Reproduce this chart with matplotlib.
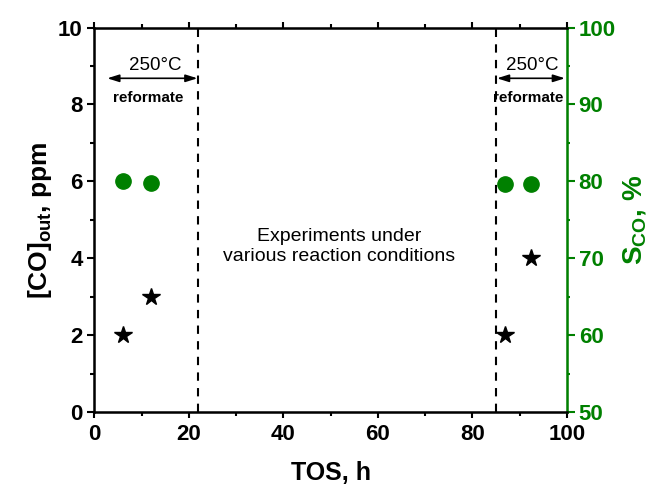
import matplotlib
matplotlib.use("Agg")
import matplotlib.pyplot as plt
from matplotlib.ticker import MultipleLocator

plt.rcParams['font.family'] = ['Liberation Sans', 'DejaVu Sans']
plt.rcParams['mathtext.fontset'] = 'custom'
plt.rcParams['mathtext.rm'] = 'Liberation Sans'
plt.rcParams['mathtext.bf'] = 'Liberation Sans:bold'

# data
tos_co = [6, 12, 87, 92.5]
co_out = [2, 3, 2, 4]
tos_s = [6, 12, 87, 92.5]
s_co = [80, 79.8, 79.7, 79.7]
boundaries = [22, 85]

green = '#008000'

fig = plt.figure(figsize=(6.48, 4.86), dpi=100)
ax = fig.add_axes([0.1458, 0.1523, 0.729, 0.791])
ax2 = ax.twinx()

ax.plot(tos_co, co_out, linestyle='none', marker='*', color='black', markersize=13)
ax2.plot(tos_s, s_co, linestyle='none', marker='o', color=green, markersize=11)

for b in boundaries:
    ax.axvline(b, color='black', linestyle=(0, (4, 3.5)), linewidth=1.5)

arrow = dict(arrowstyle='<|-|>,head_length=0.7,head_width=0.22', color='black', lw=1.2,
             mutation_scale=10, shrinkA=0, shrinkB=0)
ax.annotate('', xy=(2.7, 8.68), xytext=(21.8, 8.68), arrowprops=arrow)
ax.annotate('', xy=(85.2, 8.68), xytext=(99.6, 8.68), arrowprops=arrow)
ax.text(12.9, 9.02, '250°C', ha='center', va='center', fontsize=13.5)
ax.text(11.3, 8.18, 'reformate', ha='center', va='center', fontsize=11, fontweight='bold')
ax.text(92.7, 9.02, '250°C', ha='center', va='center', fontsize=13.5)
ax.text(91.8, 8.18, 'reformate', ha='center', va='center', fontsize=11, fontweight='bold')
ax.text(51.8, 4.3, 'Experiments under\nvarious reaction conditions', ha='center', va='center',
        fontsize=14, linespacing=1.2)

ax.set_xlim(0, 100)
ax.set_ylim(0, 10)
ax2.set_ylim(50, 100)

ax.xaxis.set_major_locator(MultipleLocator(20))
ax.xaxis.set_minor_locator(MultipleLocator(10))
ax.yaxis.set_major_locator(MultipleLocator(2))
ax.yaxis.set_minor_locator(MultipleLocator(1))
ax2.yaxis.set_major_locator(MultipleLocator(10))
ax2.yaxis.set_minor_locator(MultipleLocator(5))

ax.tick_params(axis='x', which='both', direction='out', top=True, labelsize=16, width=1.5, pad=4.5)
ax.tick_params(axis='x', which='major', length=4)
ax.tick_params(axis='x', which='minor', length=3)
ax.tick_params(axis='y', which='both', direction='out', labelsize=16, width=1.5, pad=3.5)
ax.tick_params(axis='y', which='major', length=5)
ax.tick_params(axis='y', which='minor', length=3)
ax2.tick_params(axis='y', which='both', direction='out', colors=green, labelsize=16, width=1.5, pad=3)
ax2.tick_params(axis='y', which='major', length=5.5)
ax2.tick_params(axis='y', which='minor', length=2.5)

for lab in ax.get_xticklabels() + ax.get_yticklabels() + ax2.get_yticklabels():
    lab.set_fontweight('bold')

for sp in ['left', 'bottom', 'top']:
    ax2.spines[sp].set_linewidth(1.8)
ax2.spines['right'].set_linewidth(1.8)
ax2.spines['right'].set_color(green)

ax.set_xlabel('TOS, h', fontsize=18, fontweight='bold', labelpad=12)
ax.set_ylabel(r'[CO]$_{\mathbf{out}}$, ppm', fontsize=19, fontweight='bold', labelpad=3)
ax2.set_ylabel(r'S$_{\mathbf{CO}}$, %', fontsize=20, fontweight='bold', color=green,
               rotation=90, labelpad=4)

fig.savefig('out.png', dpi=100)
